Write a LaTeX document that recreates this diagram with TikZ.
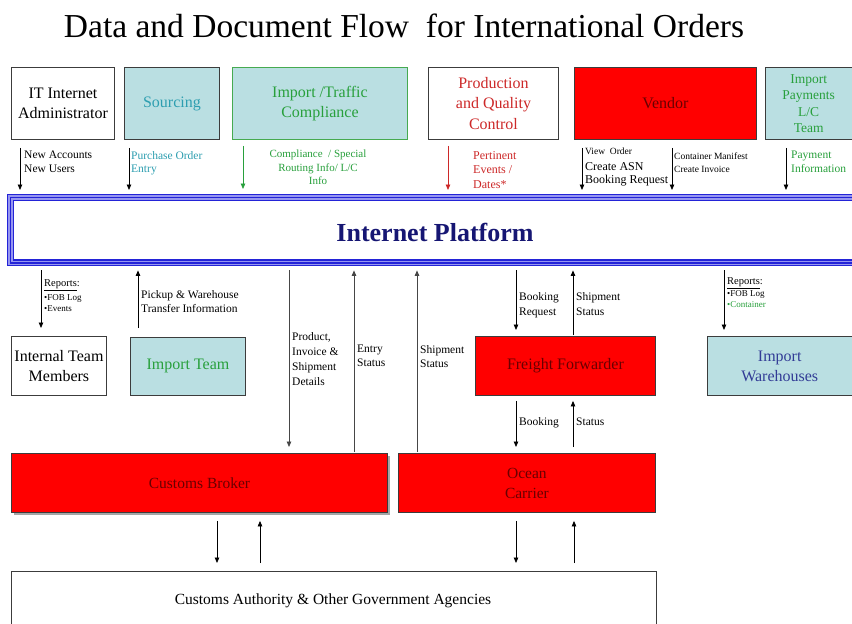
\documentclass[tikz,border=0pt]{standalone}
\usepackage{fontspec}
\setmainfont{Liberation Serif}
\usetikzlibrary{arrows.meta,calc}

\definecolor{paleblue}{RGB}{186,223,226}
\definecolor{tealtxt}{RGB}{45,158,176}
\definecolor{greentxt}{RGB}{40,160,60}
\definecolor{greenline}{RGB}{70,170,80}
\definecolor{redtxt}{RGB}{205,40,40}
\definecolor{maroon}{RGB}{105,0,0}
\definecolor{navytxt}{RGB}{22,22,115}
\definecolor{whtxt}{RGB}{50,60,150}
\definecolor{boxline}{RGB}{60,60,60}
\definecolor{bandlight}{RGB}{150,150,240}
\definecolor{banddark}{RGB}{35,35,215}
\definecolor{flowgray}{RGB}{70,70,70}

\newcommand{\fs}[2]{\fontsize{#1}{#2}\selectfont}

\begin{document}
\begin{tikzpicture}[x=1pt,y=-1pt,
  box/.style={draw=boxline, line width=0.9pt, anchor=north west, align=center, inner sep=0pt},
  lbl/.style={anchor=north west, inner sep=0pt, align=left},
  arr/.style={-{Triangle[length=5.5pt,width=4.5pt]}, line width=0.8pt, draw=black},
  arrg/.style={arr, draw=flowgray}
]
\useasboundingbox (0,0) rectangle (852,624);
\fill[white] (0,0) rectangle (852,624);

% title
\node[inner sep=0pt, font=\fs{33.5}{37}] (title) at (404,26) {Data and Document Flow\ \ for International\ Orders};

% top row of parties
\node[box, minimum width=103pt, minimum height=72pt, fill=white, font=\fs{16}{20}] (it) at (11,67)
  {IT Internet\\Administrator};
\node[box, minimum width=95pt, minimum height=72pt, fill=paleblue, text=tealtxt, font=\fs{16}{19}] (src) at (124,67)
  {Sourcing};
\node[box, draw=greenline, minimum width=175pt, minimum height=72pt, fill=paleblue, text=greentxt, font=\fs{16}{20}] (comp) at (232,67)
  {Import /Traffic\\Compliance};
\node[box, minimum width=130pt, minimum height=72pt, fill=white, text=redtxt, font=\fs{16}{20.5}] (pqc) at (428,67)
  {Production\\and Quality\\Control};
\node[box, minimum width=182pt, minimum height=72pt, fill=red, text=maroon, font=\fs{16}{19}] (vend) at (574,67)
  {Vendor};
\node[box, minimum width=86.5pt, minimum height=72pt, fill=paleblue, text=greentxt, font=\fs{13.5}{16.5}] (pay) at (765,67)
  {Import\\Payments\\L/C\\Team};

% internet platform band
\node[inner sep=0pt, minimum width=870pt, minimum height=72pt, anchor=north west] (plat) at (7,194) {};
\draw[line width=6.5pt, draw=bandlight] ([shift={(3.5,3.5)}]plat.north west) rectangle ([shift={(-3.5,-3.5)}]plat.south east);
\foreach \o in {0.7,3.5,6.3}
  \draw[line width=1.4pt, draw=banddark] ([shift={(\o,\o)}]plat.north west) rectangle ([shift={(-\o,-\o)}]plat.south east);
\node[inner sep=0pt, text=navytxt, font=\fs{26}{30}\bfseries] (platlabel) at (435,232) {Internet Platform};

% second row
\node[box, minimum width=95pt, minimum height=59pt, fill=white, font=\fs{16}{20}] (itm) at (11,336)
  {Internal\ Team\\Members};
\node[box, minimum width=115pt, minimum height=58pt, fill=paleblue, text=greentxt, font=\fs{16}{19}] (imt) at (130,337)
  {Import Team};
\node[box, minimum width=180pt, minimum height=59pt, fill=red, text=maroon, font=\fs{16}{19}] (ff) at (475,336)
  {Freight Forwarder};
\node[box, minimum width=144.5pt, minimum height=59pt, fill=paleblue, text=whtxt, font=\fs{16}{20}] (iw) at (707,336)
  {Import\\Warehouses};

% carriers and brokers
\fill[gray!70] (14,456) rectangle (390,515);
\node[box, minimum width=376pt, minimum height=59pt, fill=red, text=maroon, font=\fs{15.5}{19}] (cb) at (11,453)
  {Customs Broker};
\node[box, minimum width=257pt, minimum height=59pt, fill=red, text=maroon, font=\fs{15.5}{20}] (oc) at (398,453)
  {Ocean\\Carrier};

% authorities
\node[box, minimum width=645pt, minimum height=70pt, fill=white] (ca) at (11,571) {};
\node[inner sep=0pt, font=\fs{15.5}{18}] (calabel) at (333,601) {Customs Authority \& Other Government Agencies};

% flow columns
\foreach \c in {20,41,129,138,217,243,260,289,354,417,448,516,573,582,672,724,786}
  \coordinate (c\c) at (\c,0);

% top row into the platform
\draw[arr, shorten <=8pt, shorten >=4pt] (it.south -| c20) -- (plat.north -| c20);
\draw[arr, shorten <=8pt, shorten >=4pt] (src.south -| c129) -- (plat.north -| c129);
\draw[arr, draw=greentxt, shorten <=6pt, shorten >=5pt] (comp.south -| c243) -- (plat.north -| c243);
\draw[arr, draw=redtxt, shorten <=6pt, shorten >=4pt] (pqc.south -| c448) -- (plat.north -| c448);
\draw[arr, shorten <=8pt, shorten >=4pt] (vend.south -| c582) -- (plat.north -| c582);
\draw[arr, shorten <=8pt, shorten >=4pt] (vend.south -| c672) -- (plat.north -| c672);
\draw[arr, shorten <=8pt, shorten >=4pt] (pay.south -| c786) -- (plat.north -| c786);

% platform to second row
\draw[arr, shorten <=4pt, shorten >=8pt] (plat.south -| c41) -- (itm.north -| c41);
\draw[arr, shorten <=9pt, shorten >=4pt] (imt.north -| c138) -- (plat.south -| c138);
\draw[arrg, shorten <=4pt, shorten >=6pt] (plat.south -| c289) -- (cb.north -| c289);
\draw[arrg, shorten <=1pt, shorten >=4pt] (cb.north -| c354) -- (plat.south -| c354);
\draw[arrg, shorten <=1pt, shorten >=4pt] (oc.north -| c417) -- (plat.south -| c417);
\draw[arr, shorten <=4pt, shorten >=6pt] (plat.south -| c516) -- (ff.north -| c516);
\draw[arr, shorten <=1pt, shorten >=4pt] (ff.north -| c573) -- (plat.south -| c573);
\draw[arr, shorten <=4pt, shorten >=6pt] (plat.south -| c724) -- (iw.north -| c724);

% forwarder and carrier
\draw[arr, shorten <=5pt, shorten >=6pt] (ff.south -| c516) -- (oc.north -| c516);
\draw[arr, shorten <=6pt, shorten >=5pt] (oc.north -| c573) -- (ff.south -| c573);

% brokers and carriers to authorities
\draw[arr, shorten <=8pt, shorten >=8pt] (cb.south -| c217) -- (ca.north -| c217);
\draw[arr, shorten <=8pt, shorten >=8pt] (ca.north -| c260) -- (cb.south -| c260);
\draw[arr, shorten <=8pt, shorten >=8pt] (oc.south -| c516) -- (ca.north -| c516);
\draw[arr, shorten <=8pt, shorten >=8pt] ([xshift=1pt]ca.north -| c573) -- ([xshift=1pt]oc.south -| c573);

% labels, top
\node[lbl, font=\fs{11.5}{13.5}] (l1) at (24,151) {New Accounts\\New Users};
\node[lbl, text=tealtxt, font=\fs{11.5}{13.5}] (l2) at (131,151) {Purchase Order\\Entry};
\node[anchor=north, inner sep=0pt, align=center, text=greentxt, font=\fs{11}{13.5}] (l3) at (318,150)
  {Compliance\ \ / Special\\Routing Info/ L/C\\Info};
\node[lbl, text=redtxt, font=\fs{12}{14.5}] (l4) at (473,151) {Pertinent\\Events /\\Dates*};
\node[lbl, font=\fs{9.5}{11}] (l5a) at (585,148) {View\ \ Order};
\node[lbl, font=\fs{12}{13.5}] (l5b) at (585,162) {Create ASN\\Booking Request};
\node[lbl, font=\fs{9.5}{12.5}] (l6) at (674,153) {Container Manifest\\Create Invoice};
\node[lbl, text=greentxt, font=\fs{11.5}{14}] (l7) at (791,151) {Payment\\Information};

% labels, middle
\node[lbl, font=\fs{10.5}{12}] (l8) at (44,279) {\underline{Reports}:};
\node[lbl, font=\fs{9}{11.5}] (l9) at (44,294) {\textbullet FOB Log\\\textbullet Events};
\node[lbl, font=\fs{11.5}{14}] (l10) at (141,290) {Pickup \& Warehouse\\Transfer Information};
\node[lbl, font=\fs{11.5}{15}] (l11) at (292,332) {Product,\\Invoice \&\\Shipment\\Details};
\node[lbl, font=\fs{11.5}{14}] (l12) at (357,345) {Entry\\Status};
\node[lbl, font=\fs{11.5}{14}] (l13) at (420,345) {Shipment\\Status};
\node[lbl, font=\fs{11.5}{15}] (l14) at (519,292) {Booking\\Request};
\node[lbl, font=\fs{11.5}{15}] (l15) at (576,292) {Shipment\\Status};
\node[lbl, font=\fs{10.5}{12}] (l16) at (727,277) {\underline{Reports}:};
\node[lbl, font=\fs{9}{11}] (l17) at (727,290) {\textbullet FOB Log\\\textcolor{greentxt}{\textbullet Container}};
\node[lbl, font=\fs{11.5}{14}] (l18) at (519,417) {Booking};
\node[lbl, font=\fs{11.5}{14}] (l19) at (576,418) {Status};
\end{tikzpicture}
\end{document}
